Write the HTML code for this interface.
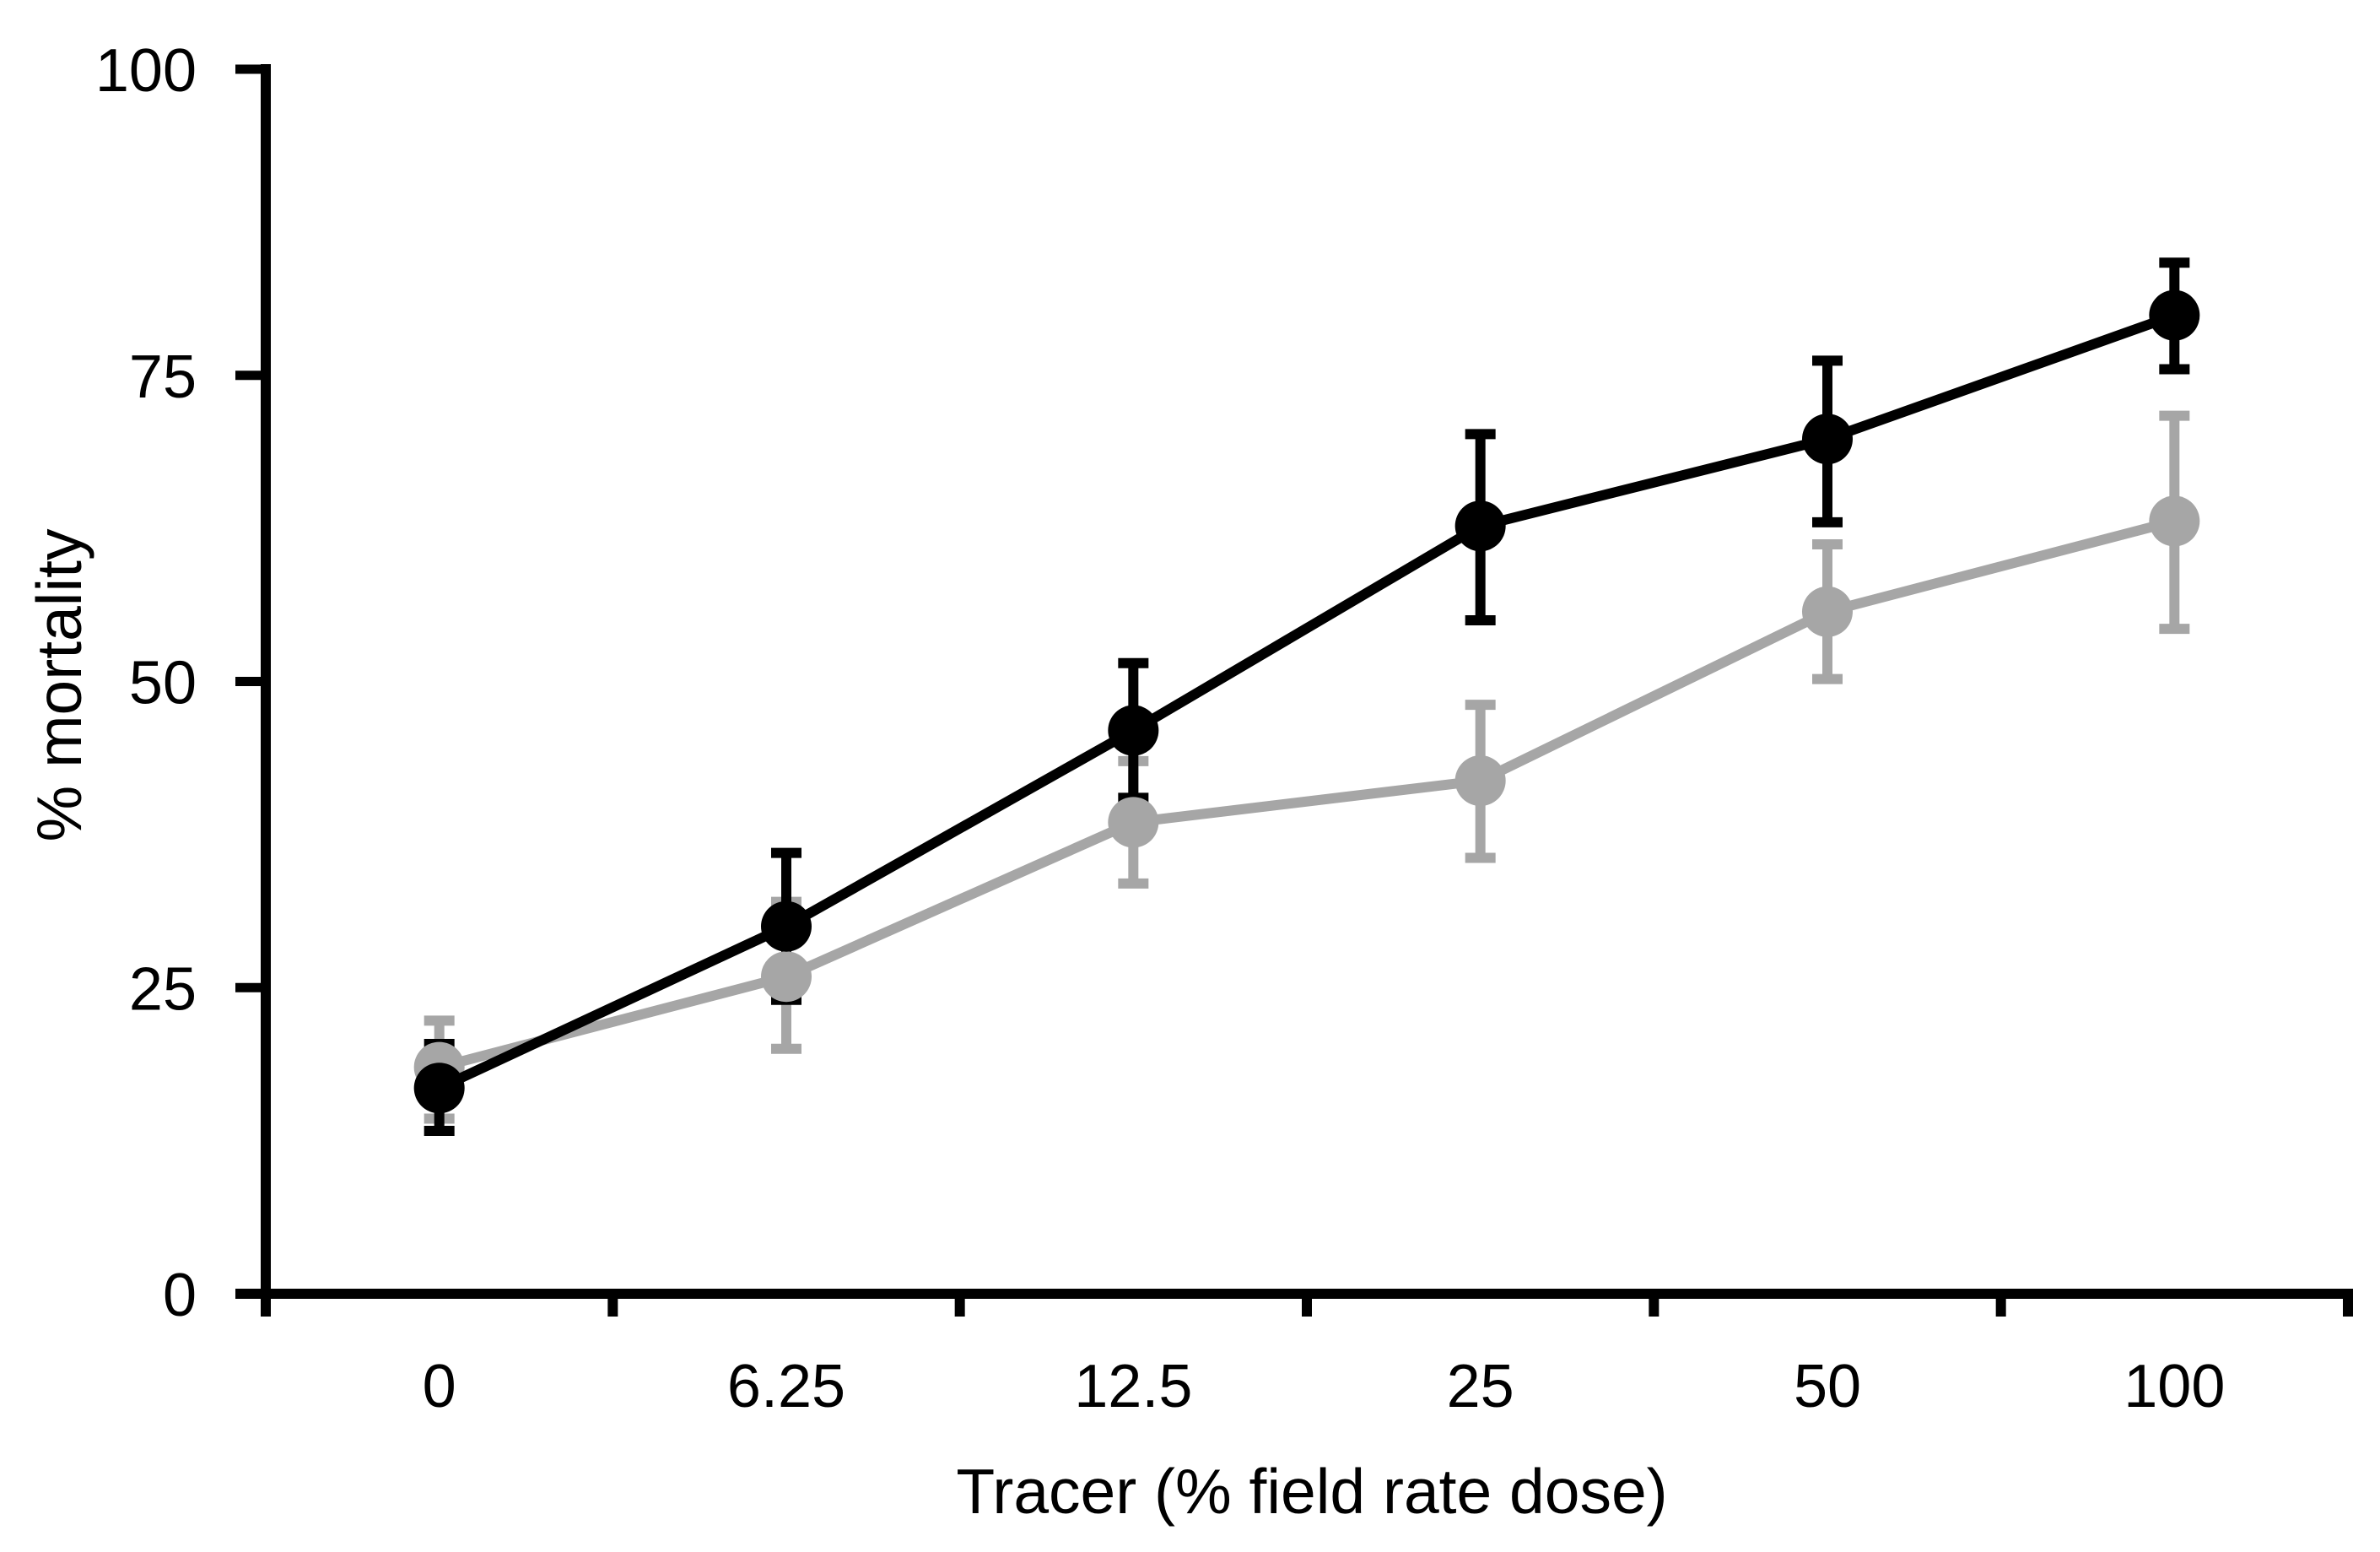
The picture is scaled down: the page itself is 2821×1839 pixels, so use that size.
<!DOCTYPE html>
<html><head><meta charset="utf-8"><style>
html,body{margin:0;padding:0;background:#fff;}
svg{display:block;font-family:"Liberation Sans",sans-serif;}
</style></head><body>
<svg id="chart" width="2821" height="1839" viewBox="0 0 2821 1839" xmlns="http://www.w3.org/2000/svg">
<rect width="2821" height="1839" fill="#fff"/>
<g id="errs"></g>
<g id="series"></g>
<g id="axes"></g>
<text x="1555" y="1793" font-size="75" text-anchor="middle" fill="#000">Tracer (% field rate dose)</text>
<text transform="translate(96,812) rotate(-90)" font-size="75" text-anchor="middle" fill="#000">% mortality</text>
</svg>
<script>
const categories = ["0","6.25","12.5","25","50","100"];
const yTicks = [0,25,50,75,100];
const blackValues = [16.8,30,46,62.7,69.8,79.9];
const blackLow = [13.3,24,40.5,55,63,75.5];
const blackHigh = [20.4,36,51.5,70.2,76.2,84.2];
const grayValues = [18.5,25.9,38.5,41.9,55.7,63.1];
const grayLow = [14.3,20,33.5,35.6,50.2,54.3];
const grayHigh = [22.3,32,43.5,48.1,61.2,71.7];

const NS="http://www.w3.org/2000/svg";
const X0=315, X1=2783, Y0=1533, Y100=82;
const step=(X1-X0)/categories.length;
function xPos(i){return X0+step*(i+0.5);}
function yPos(v){return Y0-(Y0-Y100)*v/100;}
function mk(tag,attrs,parent){const e=document.createElementNS(NS,tag);for(const k in attrs)e.setAttribute(k,attrs[k]);parent.appendChild(e);return e;}
const axes=document.getElementById('axes'), errs=document.getElementById('errs'), ser=document.getElementById('series');

function drawErr(vals,lo,hi,color,name){
  vals.forEach((v,i)=>{
    const x=xPos(i);
    const l=mk('line',{x1:x,x2:x,y1:yPos(lo[i]),y2:yPos(hi[i]),stroke:color,'stroke-width':12},errs);
    
    
    [lo[i],hi[i]].forEach(e=>{
      const c=mk('line',{x1:x-18,x2:x+18,y1:yPos(e),y2:yPos(e),stroke:color,'stroke-width':12},errs);
      
      
    });
  });
}
function drawSeries(vals,color,name){
  const p=mk('polyline',{points:vals.map((v,i)=>xPos(i)+','+yPos(v)).join(' '),fill:'none',stroke:color,'stroke-width':12,'stroke-linejoin':'round'},ser);
  
  
  vals.forEach((v,i)=>{
    const c=mk('circle',{cx:xPos(i),cy:yPos(v),r:30,fill:color},ser);
    
    
  });
}
drawErr(grayValues,grayLow,grayHigh,'#a6a6a6','gray-series');
drawErr(blackValues,blackLow,blackHigh,'#000','black-series');
drawSeries(grayValues,'#a6a6a6','gray-series');
drawSeries(blackValues,'#000','black-series');

const ya=mk('line',{x1:X0,x2:X0,y1:Y100-6,y2:Y0+6,stroke:'#000','stroke-width':12},axes);


const xa=mk('line',{x1:X0-36,x2:X1+6,y1:Y0,y2:Y0,stroke:'#000','stroke-width':12},axes);


yTicks.forEach(t=>{
  const y=yPos(t);
  const tk=mk('line',{x1:X0-36,x2:X0,y1:y,y2:y,stroke:'#000','stroke-width':11},axes);
  
  
  const tx=mk('text',{x:233,y:y+26,'font-size':72,'text-anchor':'end',fill:'#000'},axes);
  tx.textContent=t;
  
  
});
for(let i=0;i<=categories.length;i++){
  const x=X0+step*i;
  const tk=mk('line',{x1:x,x2:x,y1:Y0,y2:1560,stroke:'#000','stroke-width':12},axes);
  
  
}
categories.forEach((c,i)=>{
  const tx=mk('text',{x:xPos(i),y:1667,'font-size':72,'text-anchor':'middle',fill:'#000'},axes);
  tx.textContent=c;
  
  
});
</script>
</body></html>
